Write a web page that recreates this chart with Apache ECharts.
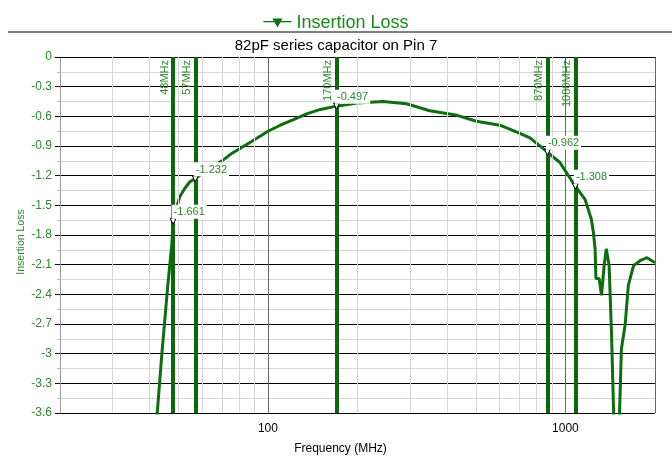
<!DOCTYPE html>
<html>
<head>
<meta charset="utf-8">
<script src="https://cdn.jsdelivr.net/npm/echarts@6/dist/echarts.min.js"></script>
<style>
  html, body { margin: 0; padding: 0; background: #fff; }
  #chart { width: 672px; height: 460px; }
</style>
</head>
<body>
<div id="chart"></div>
<script>
// measured curve (MHz, dB)
var freqs = [41, 42.5, 44, 46, 47.5, 48, 49, 50.6, 52.5, 54.7, 57, 60, 64, 69.9, 76, 84.8, 92, 100, 110, 121.8,
  135, 150, 170, 199, 244, 292, 350, 432, 502, 602, 684, 760, 870, 958, 1080, 1164, 1222, 1241, 1258, 1266,
  1298, 1322, 1350, 1372, 1402, 1428, 1452, 1485, 1520, 1542, 1587, 1627, 1694, 1782, 1880, 2000];
var losses = [-3.95, -3.58, -3.0, -2.33, -1.9, -1.661, -1.55, -1.41, -1.33, -1.26, -1.232, -1.18, -1.12, -1.053, -0.97, -0.885, -0.82, -0.751, -0.69, -0.634,
  -0.575, -0.53, -0.497, -0.466, -0.45, -0.473, -0.543, -0.59, -0.65, -0.69, -0.758, -0.818, -0.962, -1.067, -1.308, -1.44, -1.64, -1.77, -1.94, -2.24,
  -2.24, -2.41, -2.1, -1.94, -2.11, -2.78, -3.6, -4.5, -3.6, -2.95, -2.71, -2.31, -2.11, -2.06, -2.03, -2.08];

// markers
var markerFreqs = [48, 57, 170, 870, 1080];
var markerLosses = [-1.661, -1.232, -0.497, -0.962, -1.308];

// log grid helpers
var minorGridFreqs = [30, 40, 50, 60, 70, 80, 90, 200, 300, 400, 500, 600, 700, 800, 900];
var xLabelValues = [100, 1000];

var green = '#0c6e0c';
var textGreen = '#2a8a2a';

var chart = echarts.init(document.getElementById('chart'));

chart.setOption({
  animation: false,
  textStyle: { fontFamily: 'Liberation Sans, Arial, sans-serif' },
  title: {
    text: '82pF series capacitor on Pin 7',
    left: 'center',
    top: 33,
    textStyle: { fontSize: 15, fontWeight: 'normal', color: '#000' }
  },
  legend: {
    data: [{ name: 'Insertion Loss', icon: 'path://M0,2.5H28V3.7H0Z M9,0H19L14,9Z' }],
    top: 9,
    left: 'center',
    itemWidth: 28,
    itemHeight: 9,
    itemGap: 6,
    textStyle: { fontSize: 18, color: '#1a8a1a' }
  },
  graphic: [{
    type: 'line',
    shape: { x1: 8, y1: 32, x2: 672, y2: 32 },
    style: { stroke: '#000', lineWidth: 1 }
  }],
  grid: { left: 60, right: 17, top: 57, bottom: 45 },
  xAxis: {
    type: 'log',
    logBase: 10,
    min: 20,
    max: 2000,
    name: 'Frequency (MHz)',
    nameLocation: 'middle',
    nameGap: 30,
    nameMoveOverlap: false,
    nameTextStyle: { fontSize: 12, color: '#000', padding: [0, 34, 0, 0] },
    axisLine: { lineStyle: { color: '#000' } },
    axisTick: { show: true, length: 6, lineStyle: { color: '#555' } },
    axisLabel: {
      fontSize: 12,
      color: '#000',
      margin: 10,
      showMinLabel: false,
      showMaxLabel: false,
      formatter: function (v) {
        var r = Math.round(v);
        return xLabelValues.indexOf(r) >= 0 ? String(r) : '';
      }
    },
    splitLine: { show: true, lineStyle: { color: '#666' } }
  },
  yAxis: {
    type: 'value',
    min: -3.6,
    max: 0,
    interval: 0.3,
    name: 'Insertion Loss',
    nameLocation: 'middle',
    nameGap: 33,
    nameMoveOverlap: false,
    nameTextStyle: { fontSize: 10.5, color: textGreen, padding: [0, 14, 0, 0] },
    axisLine: { show: true, lineStyle: { color: '#999' } },
    axisTick: { show: true, length: 5, lineStyle: { color: '#000' } },
    minorTick: { show: true, splitNumber: 2, length: 3, lineStyle: { color: '#bbb' } },
    axisLabel: {
      fontSize: 12,
      color: textGreen,
      margin: 8,
      formatter: function (v) { return String(parseFloat(v.toFixed(1))); }
    },
    splitLine: { show: true, lineStyle: { color: '#000' } },
    minorSplitLine: { show: true, lineStyle: { color: '#d6d6d6' } }
  },
  series: [
    {
      // minor vertical grid lines of the log axis
      name: 'grid',
      type: 'line',
      data: [],
      silent: true,
      z: 0,
      markLine: {
        silent: true,
        symbol: 'none',
        label: { show: false },
        lineStyle: { color: '#d6d6d6', width: 1, type: 'solid' },
        data: minorGridFreqs.map(function (f) { return { xAxis: f }; })
      }
    },
    {
      name: 'Insertion Loss',
      type: 'line',
      data: freqs.map(function (f, i) { return [f, losses[i]]; }),
      showSymbol: false,
      symbol: 'none',
      clip: true,
      z: 3,
      lineStyle: { color: green, width: 3 },
      itemStyle: { color: green },
      markLine: {
        silent: true,
        symbol: 'none',
        lineStyle: { color: '#0b690b', width: 4, type: 'solid' },
        label: {
          show: true,
          position: 'insideEndTop',
          distance: 3,
          fontSize: 11,
          color: textGreen,
          formatter: function (p) { return p.value + 'MHz'; }
        },
        data: markerFreqs.map(function (f) { return { xAxis: f }; })
      }
    },
    {
      name: 'markers',
      type: 'scatter',
      data: markerFreqs.map(function (f, i) { return [f, markerLosses[i]]; }),
      symbol: 'triangle',
      symbolRotate: 180,
      symbolSize: 6,
      z: 5,
      itemStyle: { color: '#fff', borderColor: '#000', borderWidth: 1, opacity: 1 },
      label: {
        show: true,
        position: [2, 1],
        align: 'left',
        verticalAlign: 'bottom',
        fontSize: 11,
        color: textGreen,
        backgroundColor: '#fff',
        padding: [2, 2, 1, 2],
        formatter: function (p) { return p.value[1].toFixed(3); }
      }
    }
  ]
});
</script>
</body>
</html>
